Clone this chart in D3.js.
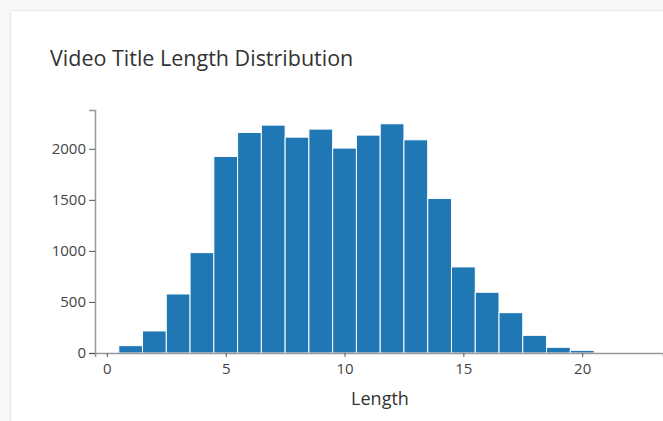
<!DOCTYPE html>
<html><head><meta charset="utf-8">
<script src="https://cdn.jsdelivr.net/npm/d3@7"></script>
<style>
html,body{margin:0;padding:0;background:#f6f7f9;overflow:hidden;}
#card{position:absolute;left:10px;top:10px;width:700px;height:460px;background:#fff;border:1px solid #e6e8eb;border-radius:3px;}
svg{position:absolute;left:0;top:0;}
</style></head><body>
<div id="card"></div>
<svg id="chart" width="663" height="421"></svg>
<script>
const lengths = [1,2,3,4,5,6,7,8,9,10,11,12,13,14,15,16,17,18,19,20];
const counts = [72,216,578,983,1925,2160,2232,2114,2193,2007,2134,2245,2088,1513,843,595,395,173,56,26];
const xTicks = [0,5,10,15,20];
const yTicks = [0,500,1000,1500,2000];

(function(){
const svg = d3.select("#chart");
const font = "'Open Sans', sans-serif";

svg.append("text").attr("x",50).attr("y",66)
  .attr("font-family",font).attr("font-size",21.5).attr("fill","#333")
  .text("Video Title Length Distribution");

const mLeft=95, mBottom=353, mTop=110;
const x = d3.scaleLinear().domain([-0.5, 23.4]).range([mLeft, 663]);
const y = d3.scaleLinear().domain([0, 2380]).range([mBottom, mTop]);

const g = svg.append("g");
g.selectAll("rect").data(lengths).join("rect")
  .attr("x", (d)=>x(d-0.5))
  .attr("width", (d)=>x(d+0.5)-x(d-0.5))
  .attr("y", (d,i)=>y(counts[i]))
  .attr("height", (d,i)=>mBottom-y(counts[i]))
  .attr("fill","#1f77b4").attr("stroke","#ffffff").attr("stroke-width",1);

const xAxis = svg.append("g").attr("transform",`translate(0,${mBottom})`)
  .call(d3.axisBottom(x).tickValues(xTicks).tickFormat(d3.format("d")).tickSizeOuter(0).tickSize(4).tickPadding(6));
const yAxis = svg.append("g").attr("transform",`translate(${mLeft},0)`)
  .call(d3.axisLeft(y).tickValues(yTicks).tickFormat(d3.format("d")).tickSizeOuter(0).tickSize(6).tickPadding(3));
[xAxis,yAxis].forEach(a=>{
  a.select(".domain").attr("stroke","#999").attr("stroke-width",1.5);
  a.selectAll(".tick line").attr("stroke","#555");
  a.selectAll("text").attr("font-family",font).attr("font-size",15).attr("fill","#444");
});

svg.append("text").attr("x",380).attr("y",405).attr("text-anchor","middle")
  .attr("font-family",font).attr("font-size",18).attr("fill","#333").text("Length");
})();
</script>
</body></html>
